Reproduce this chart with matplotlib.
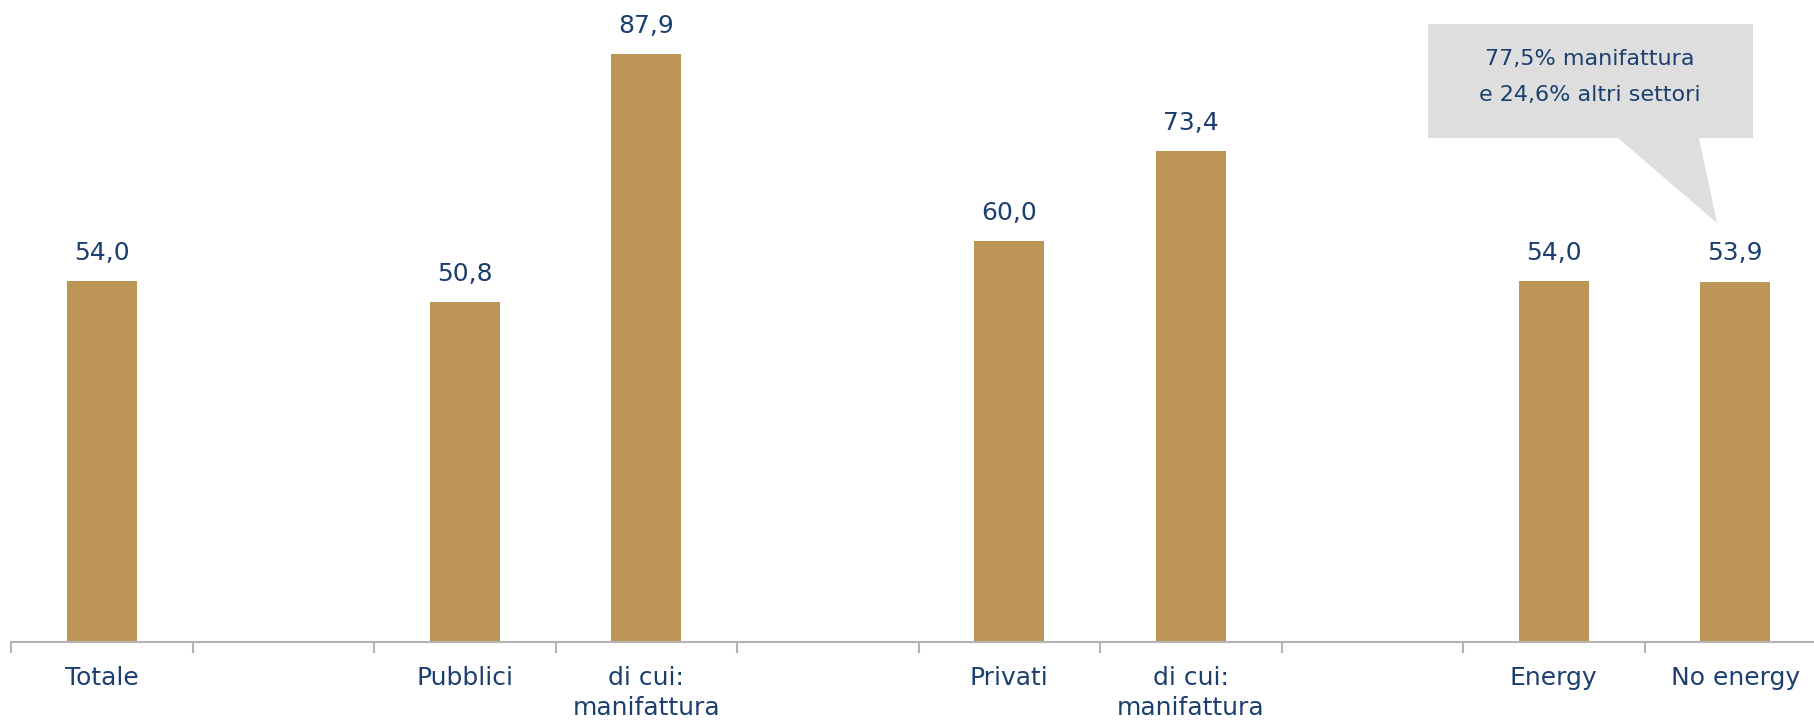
import numpy as np
import matplotlib.pyplot as plt
from matplotlib.patches import Polygon

# data
categories = ['Totale', '', 'Pubblici', 'di cui:\nmanifattura', '',
              'Privati', 'di cui:\nmanifattura', '', 'Energy', 'No energy']
values = [54.0, None, 50.8, 87.9, None, 60.0, 73.4, None, 54.0, 53.9]
callout_text = '77,5% manifattura\ne 24,6% altri settori'

bar_color = '#BD9556'
text_color = '#1B3F6E'
axis_color = '#B3B3B3'

plt.rcParams['font.family'] = ['DejaVu Sans']

W, H = 1815, 722
fig = plt.figure(figsize=(W / 100, H / 100), dpi=100)
# axis runs a little past the right edge of the figure, as in the original
ax = fig.add_axes([11 / W, 1 - 642 / H, 1815 / W, 642 / H])

x = np.arange(len(categories))
for xi, v in zip(x, values):
    if v is None:
        continue
    ax.bar(xi, v, width=0.385, color=bar_color)
    ax.text(xi, v + 2.4, f'{v:.1f}'.replace('.', ','), ha='center', va='bottom',
            fontsize=18, color=text_color)

ax.set_xlim(-0.5, 9.5)
ax.set_ylim(0, 96)

# axis styling
for s in ['top', 'right', 'left']:
    ax.spines[s].set_visible(False)
ax.spines['bottom'].set_color(axis_color)
ax.spines['bottom'].set_linewidth(1.5)
ax.set_yticks([])
ax.set_xticks(x)
ax.set_xticklabels(categories, fontsize=18, color=text_color, linespacing=1.35)
ax.tick_params(axis='x', which='major', length=0, pad=17)
ax.set_xticks(np.arange(-0.5, 9.0, 1.0), minor=True)
ax.tick_params(axis='x', which='minor', length=8, width=1.5, color=axis_color)

# callout box (figure pixel coords converted to fractions)
box = [(1428, 24), (1753, 24), (1753, 138), (1699, 138), (1717, 223),
       (1618, 138), (1428, 138)]
poly = Polygon([(px / W, 1 - py / H) for px, py in box], closed=True,
               facecolor='#DEDEDE', edgecolor='none', transform=fig.transFigure)
fig.patches.append(poly)
fig.text(1590 / W, 1 - 77 / H, callout_text, ha='center', va='center',
         fontsize=16, color=text_color, linespacing=2.05)

fig.savefig('out.png', dpi=100)
